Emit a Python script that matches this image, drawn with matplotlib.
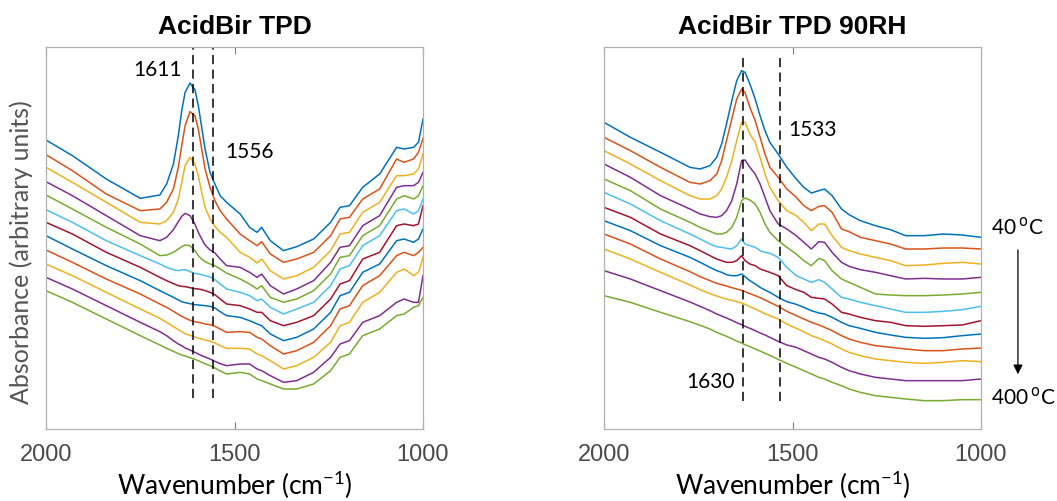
import numpy as np
import matplotlib
matplotlib.use('Agg')
import matplotlib.pyplot as plt

# wavenumber grids (cm-1) and spectra (arbitrary units, 40 C at top -> 400 C at bottom)
dry_wn = [2000, 1930, 1840, 1750, 1698, 1680, 1662, 1649, 1640, 1631, 1618, 1605, 1596, 1587, 1578, 1565,
          1552, 1538, 1521, 1485, 1460, 1440, 1428, 1405, 1370, 1335, 1290, 1245, 1220, 1195, 1160, 1115,
          1070, 1050, 1025, 1012, 1000]

dry_1 = [.757, .710, .640, .582, .592, .625, .685, .770, .845, .900, .928, .908, .860, .795, .730, .660,
         .625, .590, .570, .535, .495, .480, .495, .455, .425, .437, .460, .510, .555, .560, .615, .655,
         .735, .730, .735, .750, .820]
dry_2 = [.713, .665, .595, .545, .550, .570, .610, .675, .740, .800, .842, .830, .790, .730, .670, .615,
         .575, .545, .520, .475, .455, .440, .452, .415, .390, .400, .420, .470, .520, .525, .580, .610,
         .700, .690, .700, .720, .762]
dry_3 = [.675, .630, .570, .510, .505, .515, .540, .580, .630, .680, .705, .685, .650, .600, .555, .520,
         .498, .480, .465, .420, .405, .388, .400, .365, .340, .350, .375, .425, .475, .480, .540, .570,
         .650, .650, .655, .670, .715]
dry_4 = [.632, .590, .530, .470, .455, .465, .488, .512, .528, .537, .530, .505, .480, .460, .442, .427,
         .418, .400, .380, .375, .360, .345, .355, .320, .295, .310, .335, .390, .435, .440, .500, .530,
         .615, .620, .620, .630, .660]
dry_5 = [.592, .550, .495, .445, .410, .412, .420, .430, .437, .442, .440, .425, .410, .400, .392, .385,
         .380, .370, .358, .340, .325, .310, .320, .285, .270, .280, .305, .355, .405, .410, .470, .500,
         .580, .590, .580, .590, .620]
dry_6 = [.548, .510, .455, .410, .385, .375, .368, .365, .367, .368, .362, .357, .355, .353, .350, .346,
         .338, .325, .310, .300, .290, .275, .280, .255, .235, .250, .270, .320, .370, .380, .440, .470,
         .545, .550, .535, .545, .580]
dry_7 = [.510, .475, .420, .375, .345, .335, .326, .320, .318, .317, .314, .311, .310, .308, .305, .300,
         .293, .280, .265, .260, .250, .240, .240, .215, .200, .210, .230, .280, .325, .335, .400, .420,
         .500, .505, .500, .505, .560]
dry_8 = [.470, .430, .380, .335, .305, .295, .285, .277, .272, .269, .266, .263, .262, .261, .260, .258,
         .253, .242, .230, .225, .215, .205, .200, .175, .155, .165, .190, .240, .290, .300, .360, .385,
         .455, .460, .450, .460, .490]
dry_9 = [.427, .390, .340, .295, .265, .255, .243, .234, .228, .223, .216, .212, .210, .208, .205, .203,
         .198, .190, .180, .182, .180, .165, .160, .140, .115, .125, .150, .200, .250, .260, .320, .350,
         .410, .420, .410, .420, .435]
dry_10 = [.385, .350, .300, .250, .222, .210, .197, .188, .182, .176, .171, .166, .162, .160, .157, .154,
          .148, .140, .132, .132, .130, .115, .110, .095, .070, .080, .105, .150, .200, .210, .270, .300,
          .360, .370, .350, .360, .405]
dry_11 = [.345, .310, .260, .210, .182, .170, .155, .145, .140, .133, .127, .120, .115, .110, .106, .100,
          .093, .086, .080, .085, .085, .070, .065, .050, .030, .035, .060, .105, .145, .155, .210, .230,
          .270, .280, .270, .270, .350]
dry_12 = [.305, .270, .220, .170, .142, .132, .123, .116, .112, .109, .104, .099, .095, .090, .086, .080,
          .073, .064, .055, .060, .055, .040, .035, .025, .010, .010, .025, .065, .105, .115, .170, .190,
          .230, .235, .255, .260, .285]

wet_wn = [2000, 1930, 1850, 1772, 1745, 1719, 1701, 1688, 1675, 1661, 1648, 1635, 1626, 1613, 1599, 1586,
          1573, 1560, 1538, 1515, 1490, 1470, 1450, 1430, 1415, 1395, 1370, 1350, 1320, 1280, 1240, 1200,
          1150, 1100, 1050, 1000]

wet_1 = [.780, .735, .690, .645, .640, .650, .675, .715, .775, .845, .905, .935, .930, .895, .850, .800,
         .755, .720, .685, .645, .610, .585, .568, .575, .580, .560, .520, .503, .485, .470, .458, .440,
         .440, .445, .442, .435]
wet_2 = [.735, .695, .645, .600, .595, .605, .625, .665, .725, .790, .850, .880, .870, .825, .785, .735,
         .685, .645, .615, .580, .555, .530, .515, .528, .530, .510, .460, .452, .435, .425, .415, .400,
         .400, .403, .403, .400]
wet_3 = [.695, .655, .605, .560, .550, .550, .560, .580, .615, .665, .725, .780, .780, .745, .720, .675,
         .625, .585, .545, .515, .500, .480, .455, .475, .475, .440, .405, .395, .385, .375, .365, .350,
         .352, .357, .360, .355]
wet_4 = [.655, .615, .560, .520, .505, .497, .495, .500, .515, .545, .595, .665, .667, .645, .625, .595,
         .555, .515, .475, .460, .440, .420, .400, .422, .420, .390, .360, .348, .338, .330, .320, .310,
         .312, .310, .310, .315]
wet_5 = [.610, .575, .520, .480, .465, .453, .445, .445, .450, .465, .495, .545, .553, .547, .535, .510,
         .475, .450, .425, .405, .385, .365, .350, .372, .365, .335, .310, .300, .285, .265, .262, .260,
         .260, .262, .265, .270]
wet_6 = [.570, .535, .485, .445, .430, .415, .407, .405, .402, .400, .410, .430, .415, .410, .405, .395,
         .390, .387, .375, .345, .320, .310, .300, .308, .300, .280, .255, .250, .240, .230, .220, .210,
         .210, .213, .218, .228]
wet_7 = [.525, .495, .445, .410, .395, .380, .370, .365, .360, .360, .365, .380, .365, .355, .350, .340,
         .335, .330, .320, .290, .278, .270, .255, .252, .250, .235, .210, .205, .195, .185, .180, .170,
         .168, .170, .172, .185]
wet_8 = [.485, .455, .410, .375, .360, .345, .335, .330, .323, .320, .320, .325, .317, .305, .295, .285,
         .277, .270, .255, .242, .234, .225, .215, .208, .205, .195, .180, .170, .162, .150, .142, .135,
         .132, .134, .140, .145]
wet_9 = [.445, .415, .370, .332, .317, .305, .297, .293, .289, .284, .280, .276, .272, .266, .260, .254,
         .247, .240, .228, .213, .200, .190, .180, .172, .165, .155, .140, .130, .120, .110, .105, .100,
         .095, .095, .100, .103]
wet_10 = [.400, .370, .330, .292, .278, .266, .259, .254, .250, .246, .242, .238, .234, .227, .220, .213,
          .206, .200, .190, .175, .162, .152, .140, .132, .125, .115, .100, .090, .080, .070, .065, .060,
          .057, .060, .065, .062]
wet_11 = [.335, .310, .275, .241, .228, .215, .205, .199, .193, .186, .179, .173, .168, .162, .155, .148,
          .142, .135, .123, .112, .105, .095, .085, .075, .070, .060, .045, .035, .025, .015, .010, .005,
          .005, .005, .005, .010]
wet_12 = [.260, .240, .210, .182, .171, .160, .150, .144, .138, .131, .124, .118, .113, .107, .100, .094,
          .087, .081, .069, .057, .045, .035, .025, .015, .010, .000, -.010, -.020, -.030, -.040, -.045,
          -.050, -.055, -.055, -.052, -.052]

dry_spectra = [dry_1, dry_2, dry_3, dry_4, dry_5, dry_6, dry_7, dry_8, dry_9, dry_10, dry_11, dry_12]
wet_spectra = [wet_1, wet_2, wet_3, wet_4, wet_5, wet_6, wet_7, wet_8, wet_9, wet_10, wet_11, wet_12]

dry_marks = [1611, 1556]
wet_marks = [1630, 1533]

# MATLAB default line colours
colors = ['#0072BD', '#D95319', '#EDB120', '#7E2F8E', '#77AC30', '#4DBEEE', '#A2142F']

soft = ['Lato', 'DejaVu Sans']

plt.close('all')
fig = plt.figure(figsize=(10.57, 5.02), dpi=100)
ax1 = fig.add_axes([46/1057, 72/502, 377/1057, 382/502])
ax2 = fig.add_axes([604/1057, 72/502, 377/1057, 382/502])

for ax, wn, spectra in [(ax1, dry_wn, dry_spectra), (ax2, wet_wn, wet_spectra)]:
    for i, s in enumerate(spectra):
        ax.plot(wn, s, color=colors[i % len(colors)], lw=1.1)
    ax.set_xlim(2000, 1000)
    ax.set_xticks([2000, 1500, 1000])
    ax.set_yticks([])
    ax.tick_params(axis='x', direction='in', length=5, width=0.8, color='#7f7f7f',
                   top=True, labelsize=17, labelcolor='#4a4a4a', pad=10)
    for lab in ax.get_xticklabels():
        lab.set_family('Liberation Sans')
    for sp in ax.spines.values():
        sp.set_color('#b0b0b0')
        sp.set_linewidth(0.9)
    ax.set_xlabel('Wavenumber (cm$^{\\mathregular{-1}}$)', fontsize=19, family=soft, labelpad=2)

ax1.set_ylim(-0.110, 1.036)
ax2.set_ylim(-0.140, 1.006)

for w in dry_marks:
    ax1.plot([w, w], [-0.016, 1.036], color='k', ls=(0, (6, 3.5)), lw=1.1)
for w in wet_marks:
    ax2.plot([w, w], [-0.055, 0.985], color='k', ls=(0, (6, 3.5)), lw=1.1)

ax1.text(1639, 0.97, '1611', ha='right', va='center', fontsize=15, family=soft)
ax1.text(1525, 0.724, '1556', ha='left', va='center', fontsize=15, family=soft)
ax2.text(1512, 0.76, '1533', ha='left', va='center', fontsize=15, family=soft)
ax2.text(1652, 0.005, '1630', ha='right', va='center', fontsize=15, family=soft)

ax1.set_title('AcidBir TPD', fontsize=19, fontweight='bold', family='Liberation Sans', pad=10)
ax2.set_title('AcidBir TPD 90RH', fontsize=19, fontweight='bold', family='Liberation Sans', pad=10)
ax1.set_ylabel('Absorbance (arbitrary units)', fontsize=18, family=soft, color='#555555')
ax1.yaxis.set_label_coords(-0.035, 0.466)

# temperature arrow
ax2.text(1.026, 0.531, '40$\\,^{\\rm o}$C', transform=ax2.transAxes, ha='left', va='center',
         fontsize=15, family=soft)
ax2.text(1.026, 0.086, '400$\\,^{\\rm o}$C', transform=ax2.transAxes, ha='left', va='center',
         fontsize=15, family=soft)
ax2.annotate('', xy=(1.098, 0.136), xytext=(1.098, 0.476), xycoords='axes fraction',
             arrowprops=dict(arrowstyle='-|>', color='k', lw=0.9, mutation_scale=14))

fig.savefig('out.png', dpi=100)
